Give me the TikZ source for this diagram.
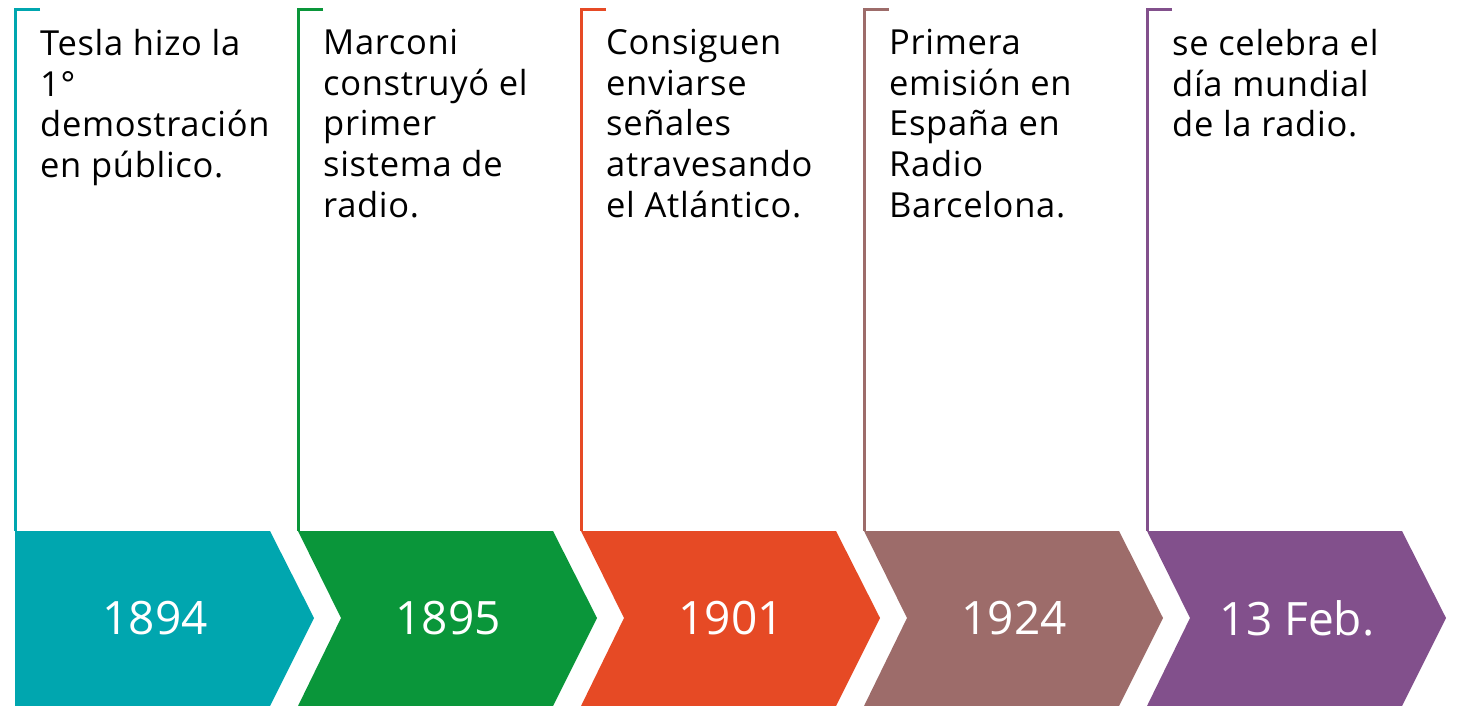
\documentclass[tikz,border=0pt]{standalone}
\usepackage{fontspec}
\setmainfont{Open Sans}
\definecolor{cTesla}{RGB}{0,166,175}
\definecolor{cMarconi}{RGB}{10,150,58}
\definecolor{cAtlantico}{RGB}{230,74,37}
\definecolor{cEspana}{RGB}{157,108,106}
\definecolor{cDia}{RGB}{130,80,140}

\begin{document}
\begin{tikzpicture}[x=1pt,y=-1pt]
\tikzstyle{every node}+=[inner sep=0pt]
\tikzstyle{note}=[anchor=north west, align=left, font=\fontsize{34.5}{40.7}\selectfont\addfontfeature{LetterSpace=2}]
\tikzstyle{year}=[text=white, font=\fontsize{46}{46}\selectfont]
\tikzstyle{bracket}=[line width=3pt]
\useasboundingbox (0,0) rectangle (1458,706);
% 1894
\fill [cTesla] (15,531) -- (270,531) -- (314,618) -- (270,706) -- (15,706) -- cycle;
\draw [bracket, cTesla] (40,10) -- (15,10) -- (15,531);
\node [year] (y1894) at (155,618) {1894};
\node [note] (n1894) at (40,29) {Tesla hizo la\\1°\\demostración\\en público.};
% 1895
\fill [cMarconi] (298,531) -- (553,531) -- (597,618) -- (553,706) -- (298,706) -- (341,618) -- cycle;
\draw [bracket, cMarconi] (323,10) -- (298,10) -- (298,531);
\node [year] (y1895) at (448,618) {1895};
\node [note] (n1895) at (323,29) {Marconi\\construyó el\\primer\\sistema de\\radio.};
% 1901
\fill [cAtlantico] (581,531) -- (836,531) -- (880,618) -- (836,706) -- (581,706) -- (624,618) -- cycle;
\draw [bracket, cAtlantico] (606,10) -- (581,10) -- (581,531);
\node [year] (y1901) at (731,618) {1901};
\node [note] (n1901) at (606,29) {Consiguen\\enviarse\\señales\\atravesando\\el Atlántico.};
% 1924
\fill [cEspana] (864,531) -- (1119,531) -- (1163,618) -- (1119,706) -- (864,706) -- (907,618) -- cycle;
\draw [bracket, cEspana] (889,10) -- (864,10) -- (864,531);
\node [year] (y1924) at (1014,618) {1924};
\node [note] (n1924) at (889,29) {Primera\\emisión en\\España en\\Radio\\Barcelona.};
% 13 Feb.
\fill [cDia] (1147,531) -- (1402,531) -- (1446,618) -- (1402,706) -- (1147,706) -- (1190,618) -- cycle;
\draw [bracket, cDia] (1172,10) -- (1147,10) -- (1147,531);
\node [year] (yFeb) at (1297,618) {13 Feb.};
\node [note] (nFeb) at (1172,29) {se celebra el\\día mundial\\de la radio.};
\end{tikzpicture}
\end{document}
